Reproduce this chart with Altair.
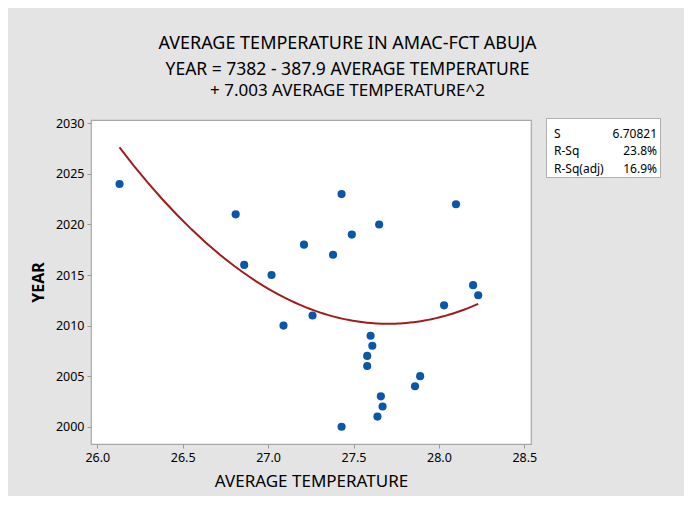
import altair as alt
import pandas as pd

# ---- data ----
temps = [26.13, 26.81, 27.21, 27.38, 27.43, 27.49, 27.65, 28.10,
         26.86, 27.02, 27.09, 27.26, 27.43, 27.60, 27.61, 27.58,
         27.58, 27.66, 27.67, 27.64, 27.86, 27.89, 28.03, 28.20, 28.23]
years = [2024, 2021, 2018, 2017, 2023, 2019, 2020, 2022,
         2016, 2015, 2010, 2011, 2000, 2009, 2008, 2007,
         2006, 2003, 2002, 2001, 2004, 2005, 2012, 2014, 2013]

x_ticks = [26.0, 26.5, 27.0, 27.5, 28.0, 28.5]
y_ticks = [2000, 2005, 2010, 2015, 2020, 2025, 2030]

title_lines = ["AVERAGE TEMPERATURE IN AMAC-FCT ABUJA",
               "YEAR = 7382 - 387.9 AVERAGE TEMPERATURE",
               "+ 7.003 AVERAGE TEMPERATURE^2"]
stat_labels = ["S", "R-Sq", "R-Sq(adj)"]
stat_values = ["6.70821", "23.8%", "16.9%"]

FONT = "Noto Sans"
W, H = 440, 324

df = pd.DataFrame({"temp": temps, "year": years})

xscale = alt.Scale(domain=[25.963, 28.539], nice=False, zero=False)
yscale = alt.Scale(domain=[1998.29, 2030.33], nice=False, zero=False)

x_enc = alt.X("temp:Q", scale=xscale,
              axis=alt.Axis(values=x_ticks, format=".1f", title="AVERAGE TEMPERATURE",
                            titleFontSize=17, titleFontWeight="normal", titlePadding=10,
                            labelFontSize=12.5, labelPadding=3, tickSize=4,
                            grid=False, domain=False))
y_enc = alt.Y("year:Q", scale=yscale,
              axis=alt.Axis(values=y_ticks, format="d", title="YEAR",
                            titleFontSize=16, titleFontWeight="bold", titlePadding=9,
                            labelFontSize=12.5, labelPadding=3, tickSize=4,
                            grid=False, domain=False))

points = alt.Chart(df).mark_circle(size=66, color="#0a56a8", opacity=1).encode(
    x=x_enc, y=y_enc)

fit = alt.Chart(df).transform_regression(
    "temp", "year", method="poly", order=2
).mark_line(color="#a01c1c", strokeWidth=2).encode(
    x=alt.X("temp:Q", scale=xscale), y=alt.Y("year:Q", scale=yscale))

# Title lines (centered over the whole figure)
tdf = pd.DataFrame({"line": title_lines, "row": [0, 1, 2]})
title = alt.Chart(tdf).transform_calculate(
    py="datum.row == 0 ? -76 : (datum.row == 1 ? -50.5 : -29)"
).mark_text(font=FONT, color="black", align="center",
            baseline="middle").encode(
    x=alt.value(256.5),
    y=alt.Y("py:Q", scale=None),
    text="line:N",
    size=alt.Size("row:O", scale=alt.Scale(domain=[0, 1, 2], range=[18, 17, 17]), legend=None))

# Statistics box
sdf = pd.DataFrame({"label": stat_labels, "value": stat_values, "row": [0, 1, 2]})
box = alt.Chart(pd.DataFrame({"a": [0]})).mark_rect(
    fill="white", stroke="#b0b0b0", strokeWidth=1).encode(
    x=alt.value(455.5), x2=alt.value(569.5), y=alt.value(-1.5), y2=alt.value(57.5))
slab = alt.Chart(sdf).transform_calculate(py="13.5 + datum.row * 17.5").mark_text(
    font=FONT, fontSize=12, align="left", baseline="middle", color="black").encode(
    x=alt.value(463), y=alt.Y("py:Q", scale=None), text="label:N")
sval = alt.Chart(sdf).transform_calculate(py="13.5 + datum.row * 17.5").mark_text(
    font=FONT, fontSize=12, align="right", baseline="middle", color="black").encode(
    x=alt.value(566), y=alt.Y("py:Q", scale=None), text="value:N")

chart = alt.layer(fit, points, title, box, slab, sval).properties(
    width=W, height=H,
    background="#e4e4e4",
    padding={"left": 83, "top": 112, "right": 153, "bottom": 52},
    autosize=alt.AutoSizeParams(type="none"),
).configure_view(
    fill="white", stroke="#a8a8a8", strokeWidth=1.2
).configure_axis(
    labelFont=FONT, titleFont=FONT, labelColor="black", titleColor="black",
    tickColor="#9a9a9a"
)

chart.save("out.html", embed_options={"renderer": "svg", "actions": False})
